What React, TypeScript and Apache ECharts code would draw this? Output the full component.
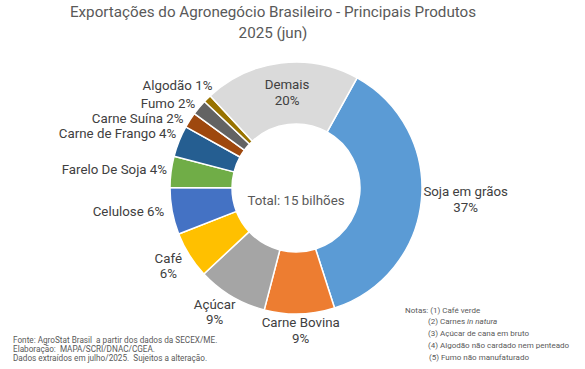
import React, { useEffect, useRef } from "react";
import * as echarts from "echarts";

const categories = [
  "Soja em grãos",
  "Carne Bovina",
  "Açúcar",
  "Café",
  "Celulose",
  "Farelo De Soja",
  "Carne de Frango",
  "Carne Suína",
  "Fumo",
  "Algodão",
  "Demais",
];
const shares = [37, 9, 9, 6, 6, 4, 4, 2, 2, 1, 20];
const colors = [
  "#5B9BD5",
  "#ED7D31",
  "#A5A5A5",
  "#FFC000",
  "#4472C4",
  "#70AD47",
  "#255E91",
  "#9E480E",
  "#636363",
  "#997300",
  "#DADADA",
];
const twoLine = ["Soja em grãos", "Carne Bovina", "Açúcar", "Café", "Demais"];
// small nudges of label placement (Excel "best fit" style)
const labelNudge: [number, number][] = [
  [-5, -1],
  [-41, 12.5],
  [9, 12.5],
  [-1, 8.5],
  [-1, 0],
  [3, -2],
  [4, -6],
  [0, 1],
  [2, -1],
  [11, -10],
  [3, 2],
];

const titleText = "Exportações do Agronegócio Brasileiro - Principais Produtos\n2025 (jun)";
const centerText = "Total: 15 bilhões";
const sourceLines = [
  "Fonte: AgroStat Brasil  a partir dos dados da SECEX/ME.",
  "Elaboração:  MAPA/SCRI/DNAC/CGEA.",
  "Dados extraídos em julho/2025.  Sujeitos a alteração.",
];
const notes = [
  "Notas: (1) Café verde",
  "(2) Carnes {i|in natura}",
  "(3) Açúcar de cana em bruto",
  "(4) Algodão não cardado nem penteado",
  "(5) Fumo não manufaturado",
];

const FONT = "Roboto, 'Noto Sans', sans-serif";
const LABEL_SIZE = 13.3;

export default function App() {
  const ref = useRef<HTMLDivElement>(null);
  useEffect(() => {
    document.body.style.margin = "0";
    const chart = echarts.init(ref.current!, null, { renderer: "svg" });
    const data = categories.map((name, i) => {
      const item: any = {
        name,
        value: shares[i],
        itemStyle: { color: colors[i] },
      };
      if (name === "Demais") {
        item.label = { position: "inside" };
      }
      return item;
    });
    const graphics: any[] = [];
    sourceLines.forEach((t, i) => {
      graphics.push({
        type: "text",
        left: 13,
        top: 336 + i * 9,
        style: { text: t, fontSize: 8.2, fill: "#595959", fontFamily: FONT },
      });
    });
    notes.forEach((t, i) => {
      graphics.push({
        type: "text",
        left: i === 0 ? 405 : i === 4 ? 429 : 428,
        top: 306 + i * 11.8,
        style: {
          text: t,
          fontSize: 8,
          fill: "#595959",
          fontFamily: FONT,
          rich: { i: { fontStyle: "italic", fontSize: 8, fill: "#595959", fontFamily: FONT } },
        },
      });
    });
    const richStyle = {
      a: {
        align: "center",
        fontSize: LABEL_SIZE,
        color: "#404040",
        fontFamily: FONT,
        lineHeight: 15.5,
      },
    };
    chart.setOption({
      animation: false,
      backgroundColor: "#fff",
      title: [
        {
          text: titleText,
          left: 273,
          top: 1,
          padding: 0,
          textAlign: "center",
          textStyle: {
            fontSize: 15.2,
            fontWeight: "normal",
            color: "#595959",
            fontFamily: FONT,
            lineHeight: 21,
          },
        },
        {
          text: centerText,
          left: 296,
          top: 192,
          padding: 0,
          textAlign: "center",
          textStyle: {
            fontSize: 13.3,
            fontWeight: "normal",
            color: "#595959",
            fontFamily: FONT,
            lineHeight: 16,
          },
        },
      ],
      graphic: graphics,
      series: [
        {
          type: "pie",
          center: [296, 188],
          radius: [64, 126],
          startAngle: 61,
          clockwise: true,
          avoidLabelOverlap: false,
          itemStyle: { borderColor: "#fff", borderWidth: 1.5 },
          label: {
            show: true,
            position: "outside",
            fontSize: LABEL_SIZE,
            color: "#404040",
            fontFamily: FONT,
            lineHeight: 15.5,
            distanceToLabelLine: 3,
            rich: richStyle,
            formatter: (p: any) =>
              twoLine.includes(p.name)
                ? `{a|${p.name}}\n{a|${p.value}%}`
                : `${p.name} ${p.value}%`,
          },
          labelLine: { show: false, length: 4, length2: 0 },
          labelLayout: (p: any) => {
            const n = labelNudge[p.dataIndex] || [0, 0];
            return { dx: n[0], dy: n[1] };
          },
          emphasis: { disabled: true },
          data,
        },
      ],
    });
    return () => chart.dispose();
  }, []);
  return <div ref={ref} style={{ width: 585, height: 369 }} />;
}
